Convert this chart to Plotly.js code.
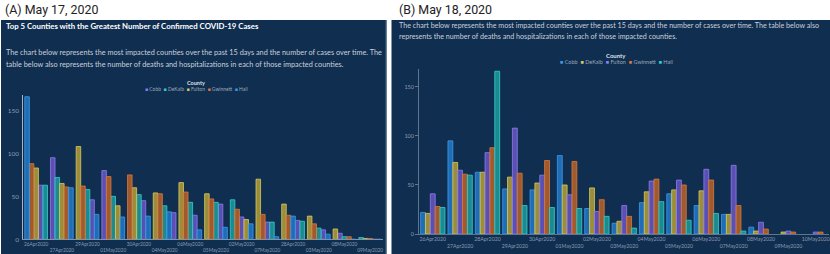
<!DOCTYPE html>
<html>
<head>
<meta charset="utf-8">
<script src="https://cdn.plot.ly/plotly-3.0.1.min.js"></script>
<style>html,body{margin:0;padding:0;background:#fff;}#chart{width:830px;height:254px;}</style>
</head>
<body>
<div id="chart"></div>
<script>
// ---------- DATA ----------
const counties = ["Cobb", "DeKalb", "Fulton", "Gwinnett", "Hall"];

// Panel A (May 17, 2020) - categories in the order displayed
const leftDates = ["26Apr2020","27Apr2020","29Apr2020","01May2020","30Apr2020","04May2020","06May2020","05May2020","02May2020","07May2020","28Apr2020","03May2020","08May2020","09May2020"];
const leftCobb     = [63, 95, 46, 80, 45, 31, 28, 41, 26, 20, 22, 11, 7, 0];
const leftDeKalb   = [63, 72, 58, 50, 52, 39, 43, 43, 46, 20, 21, 13, 3, 2];
const leftFulton   = [83, 65, 108, 39, 60, 54, 66, 53, 23, 70, 41, 27, 12, 1];
const leftGwinnett = [88, 61, 62, 73, 75, 53, 55, 47, 35, 29, 28, 18, 3, 1];
const leftHall     = [166, 60, 29, 26, 27, 32, 11, 14, 18, 3, 27, 6, 0, 0];

// Panel B (May 18, 2020)
const rightDates = ["26Apr2020","27Apr2020","28Apr2020","29Apr2020","30Apr2020","01May2020","02May2020","03May2020","04May2020","05May2020","06May2020","07May2020","08May2020","09May2020","10May2020"];
const rightCobb     = [22, 95, 63, 46, 45, 80, 26, 11, 32, 41, 29, 20, 7, null, null];
const rightDeKalb   = [21, 73, 63, 58, 52, 50, 47, 13, 43, 45, 44, 20, 3, 2, null];
const rightFulton   = [41, 65, 83, 108, 60, 40, 23, 29, 54, 55, 66, 70, 12, 3, 2];
const rightGwinnett = [28, 61, 88, 62, 75, 74, 35, 18, 56, 50, 55, 29, 5, 2, 2];
const rightHall     = [27, 60, 166, 29, 27, 26, 18, 6, 33, 14, 21, 3, null, null, null];

const yTicks = [0, 50, 100, 150];

// ---------- STYLE ----------
const W = 830, H = 254;
const px = x => x / W;
const py = y => 1 - y / H;
const navy = "#0f2e50";
const pal = {
  blue:   {fill: "rgba(34,118,196,0.88)",  line: "#3d9be8"},
  gold:   {fill: "rgba(166,150,58,0.92)",  line: "#dcc95e"},
  purple: {fill: "rgba(98,84,186,0.92)",   line: "#8c7ef0"},
  orange: {fill: "rgba(172,94,44,0.92)",   line: "#dc7a3a"},
  teal:   {fill: "rgba(28,148,150,0.92)",  line: "#34cfd0"}
};
const leftColors  = [pal.purple, pal.teal, pal.gold, pal.orange, pal.blue];
const rightColors = [pal.blue, pal.gold, pal.purple, pal.orange, pal.teal];

const leftSeries  = [leftCobb, leftDeKalb, leftFulton, leftGwinnett, leftHall];
const rightSeries = [rightCobb, rightDeKalb, rightFulton, rightGwinnett, rightHall];

// Panel A: bars sorted by value within each date group
const groupW = 0.885, barW = groupW / 5;
const ranks = leftSeries.map(() => []);
leftDates.forEach((d, i) => {
  const order = counties.map((c, k) => k).sort((a, b) => {
    const va = leftSeries[a][i] == null ? -1 : leftSeries[a][i];
    const vb = leftSeries[b][i] == null ? -1 : leftSeries[b][i];
    return vb - va || a - b;
  });
  order.forEach((k, r) => { ranks[k][i] = r; });
});

const traces = [];
counties.forEach((c, k) => {
  traces.push({
    type: "bar", name: c, x: leftDates, y: leftSeries[k],
    xaxis: "x", yaxis: "y",
    width: barW,
    offset: ranks[k].map(r => -groupW / 2 + r * barW),
    marker: {color: leftColors[k].fill, line: {color: leftColors[k].line, width: 0.8}},
    showlegend: false, hoverinfo: "x+y+name"
  });
});
counties.forEach((c, k) => {
  traces.push({
    type: "bar", name: c, x: rightDates, y: rightSeries[k],
    xaxis: "x2", yaxis: "y2",
    marker: {color: rightColors[k].fill, line: {color: rightColors[k].line, width: 0.8}},
    showlegend: false, hoverinfo: "x+y+name"
  });
});

const stagger = arr => arr.map((d, i) => (i % 2 ? "<br>" + d : d));
const axisGrey = "#7f92a8";
const tickGrey = "#8c9bb0";

const legendText = (cols) => counties.map((c, k) =>
  '<span style="color:' + cols[k].line + '">■</span> ' + c).join("  ");

const layout = {
  width: W, height: H,
  margin: {l: 0, r: 0, t: 0, b: 0},
  paper_bgcolor: "#ffffff",
  plot_bgcolor: "rgba(0,0,0,0)",
  barmode: "group",
  bargap: 0.11,
  bargroupgap: 0,
  font: {family: "Lato, 'Open Sans', sans-serif"},
  xaxis: {
    domain: [px(23.3), px(383)], anchor: "y",
    type: "category", range: [-0.5, leftDates.length - 0.5],
    tickvals: leftDates, ticktext: stagger(leftDates),
    tickfont: {size: 4.8, color: tickGrey}, tickangle: 0,
    showline: true, linecolor: axisGrey, linewidth: 1,
    showgrid: false, zeroline: false, ticks: "", fixedrange: true
  },
  yaxis: {
    domain: [py(239.3), py(95)], anchor: "x",
    range: [0, 168], tickvals: yTicks,
    tickfont: {size: 6.5, color: tickGrey},
    showline: true, linecolor: "#a9b4c2", linewidth: 1,
    showgrid: false, zeroline: false, ticks: "", ticklabelstandoff: 2
  },
  xaxis2: {
    domain: [px(419.1), px(829.4)], anchor: "y2",
    type: "category", range: [-0.5, rightDates.length - 0.5],
    tickvals: rightDates, ticktext: stagger(rightDates),
    tickfont: {size: 5.2, color: tickGrey}, tickangle: 0,
    showline: true, linecolor: "#5d7590", linewidth: 1,
    showgrid: false, zeroline: false, ticks: ""
  },
  yaxis2: {
    domain: [py(234), py(69.3)], anchor: "x2",
    range: [0, 168], tickvals: yTicks,
    tickfont: {size: 5.5, color: tickGrey},
    showline: true, linecolor: "#5d7590", linewidth: 1,
    showgrid: false, zeroline: false,
    ticks: "outside", ticklen: 3, tickcolor: "#5d7590"
  },
  shapes: [
    {type: "rect", xref: "paper", yref: "paper", x0: px(1), x1: px(386.5), y0: 0, y1: py(20),
     fillcolor: navy, line: {width: 0}, layer: "below"},
    {type: "line", xref: "paper", yref: "paper", x0: px(386), x1: px(386), y0: 0, y1: py(20),
     line: {color: "#4d6a88", width: 1}, layer: "below"},
    {type: "rect", xref: "paper", yref: "paper", x0: px(391.5), x1: 1, y0: 0, y1: py(20),
     fillcolor: navy, line: {width: 0}, layer: "below"}
  ],
  annotations: [
    {text: "(A) May 17, 2020", x: px(3), y: py(9), xref: "paper", yref: "paper",
     xanchor: "left", yanchor: "middle", showarrow: false,
     font: {family: "Roboto", size: 12.4, color: "#222"}},
    {text: "(B) May 18, 2020", x: px(397), y: py(9), xref: "paper", yref: "paper",
     xanchor: "left", yanchor: "middle", showarrow: false,
     font: {family: "Roboto", size: 12.4, color: "#222"}},
    {text: "<b>Top 5 Counties with the Greatest Number of Confirmed COVID-19 Cases</b>",
     x: px(4), y: py(26), xref: "paper", yref: "paper", xanchor: "left", yanchor: "middle",
     showarrow: false, font: {family: "Lato", size: 7.8, color: "#ffffff"}},
    {text: "The chart below represents the most impacted counties over the past 15 days and the number of cases over time. The",
     x: px(4), y: py(52.7), xref: "paper", yref: "paper", xanchor: "left", yanchor: "middle",
     showarrow: false, font: {family: "Lato", size: 7.3, color: "#c9d0da"}},
    {text: "table below also represents the number of deaths and hospitalizations in each of those impacted counties.",
     x: px(4), y: py(64.7), xref: "paper", yref: "paper", xanchor: "left", yanchor: "middle",
     showarrow: false, font: {family: "Lato", size: 7.3, color: "#c9d0da"}},
    {text: "The chart below represents the most impacted counties over the past 15 days and the number of cases over time. The table below also",
     x: px(397), y: py(25.7), xref: "paper", yref: "paper", xanchor: "left", yanchor: "middle",
     showarrow: false, font: {family: "Lato", size: 7.15, color: "#c9d0da"}},
    {text: "represents the number of deaths and hospitalizations in each of those impacted counties.",
     x: px(397), y: py(36.7), xref: "paper", yref: "paper", xanchor: "left", yanchor: "middle",
     showarrow: false, font: {family: "Lato", size: 7.15, color: "#c9d0da"}},
    // legends
    {text: "<b>County</b>", x: px(196), y: py(82.7), xref: "paper", yref: "paper",
     xanchor: "center", yanchor: "middle", showarrow: false,
     font: {family: "Lato", size: 5.5, color: "#dde3ea"}},
    {text: legendText(leftColors), x: px(196.5), y: py(88.5), xref: "paper", yref: "paper",
     xanchor: "center", yanchor: "middle", showarrow: false,
     font: {family: "Lato", size: 5, color: "#9aa8b8"}},
    {text: "<b>County</b>", x: px(616), y: py(55), xref: "paper", yref: "paper",
     xanchor: "center", yanchor: "middle", showarrow: false,
     font: {family: "Lato", size: 6, color: "#dde3ea"}},
    {text: legendText(rightColors), x: px(616.5), y: py(61.7), xref: "paper", yref: "paper",
     xanchor: "center", yanchor: "middle", showarrow: false,
     font: {family: "Lato", size: 5.5, color: "#9aa8b8"}}
  ]
};

Plotly.newPlot("chart", traces, layout, {displayModeBar: false, staticPlot: true});
</script>
</body>
</html>
